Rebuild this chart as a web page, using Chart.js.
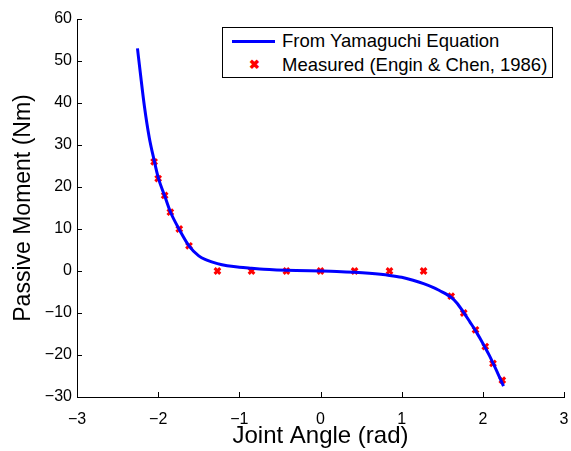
<!DOCTYPE html>
<html lang="en">
<head>
  <meta charset="UTF-8" />
  <title>Passive Moment vs Joint Angle</title>
  <script src="https://cdn.jsdelivr.net/npm/chart.js"></script>
  <style>
    body {
      margin: 0;
      background: white;
      font-family: 'Liberation Sans', Arial, sans-serif;
    }
    .wrap {
      position: relative;
      width: 571px;
      height: 451px;
    }
    .legend {
      position: absolute;
      left: 222px;
      top: 27px;
      width: 331px;
      height: 51px;
      border: 1px solid #000;
      background: white;
      font-size: 18.5px;
      color: #000;
      box-sizing: border-box;
    }
    .legend .row {
      position: absolute;
      left: 0;
      height: 22px;
      line-height: 22px;
      white-space: nowrap;
    }
    .legend .row span { position: absolute; left: 59px; }
    .legend .line {
      position: absolute;
      left: 9px;
      top: 10px;
      width: 43px;
      height: 3px;
      background: #0000ff;
    }
    .legend .mark {
      position: absolute;
      left: 26px;
      top: 0px;
      color: #ff0000;
      font-weight: bold;
      font-size: 13px;
    }
  </style>
</head>
<body>
  <div class="wrap">
    <canvas id="chart" width="571" height="451"></canvas>
    <div class="legend">
      <div class="row" style="top:2px;"><div class="line"></div><span>From Yamaguchi Equation</span></div>
      <div class="row" style="top:26px;"><div class="mark">&#x2716;</div><span>Measured (Engin &amp; Chen, 1986)</span></div>
    </div>
  </div>

  <script>
    // curve
    const curveX = [-2.255, -2.22, -2.17, -2.11, -2.05, -2.00, -1.92, -1.85, -1.74, -1.62, -1.50, -1.40, -1.27, -1.15, -1.00, -0.85, -0.70, -0.54, -0.30, 0, 0.20, 0.42, 0.60, 0.85, 1.00, 1.14, 1.27, 1.40, 1.47, 1.55, 1.61, 1.68, 1.765, 1.84, 1.91, 1.97, 2.03, 2.08, 2.125, 2.18, 2.255];
    const curveY = [53, 47.2, 39.3, 31.8, 26.4, 22.3, 17.9, 14.1, 9.9, 6.0, 3.6, 2.6, 1.75, 1.25, 0.9, 0.65, 0.42, 0.26, 0.1, 0, -0.1, -0.3, -0.55, -1.05, -1.5, -2.2, -3.0, -4.0, -4.7, -5.5, -6.3, -7.6, -9.9, -12.1, -14.2, -16.2, -18.3, -20.1, -21.9, -24.2, -27.4];

    // measured points
    const measX = [-2.05, -2.00, -1.92, -1.85, -1.74, -1.62, -1.27, -0.85, -0.42, 0, 0.42, 0.85, 1.27, 1.61, 1.765, 1.91, 2.03, 2.125, 2.24];
    const measY = [26, 22, 18, 14, 10, 6, 0, 0, 0, 0, 0, 0, 0, -6, -10, -14, -18, -22, -26];

    const xTicks = [-3, -2, -1, 0, 1, 2, 3];
    const yTicks = [-30, -20, -10, 0, 10, 20, 30, 40, 50, 60];

    const font = "'Liberation Sans', Arial, sans-serif";

    // small inward tick marks like the original
    const innerTicks = {
      id: 'innerTicks',
      afterDraw(chart) {
        const { ctx, chartArea, scales } = chart;
        ctx.save();
        ctx.strokeStyle = '#000';
        ctx.lineWidth = 1;
        ctx.beginPath();
        xTicks.forEach(v => {
          const px = Math.round(scales.x.getPixelForValue(v)) + 0.5;
          ctx.moveTo(px, chartArea.bottom);
          ctx.lineTo(px, chartArea.bottom - 5);
        });
        yTicks.forEach(v => {
          const py = Math.round(scales.y.getPixelForValue(v)) + 0.5;
          ctx.moveTo(chartArea.left, py);
          ctx.lineTo(chartArea.left + 5, py);
        });
        ctx.stroke();
        ctx.restore();
      }
    };

    new Chart(document.getElementById('chart'), {
      type: 'scatter',
      data: {
        datasets: [
          {
            label: 'From Yamaguchi Equation',
            data: curveX.map((x, i) => ({ x: x, y: curveY[i] })),
            showLine: true,
            borderColor: '#0000ff',
            borderWidth: 3,
            pointRadius: 0,
            cubicInterpolationMode: 'monotone'
          },
          {
            label: 'Measured (Engin & Chen, 1986)',
            data: measX.map((x, i) => ({ x: x, y: measY[i] })),
            showLine: false,
            pointStyle: 'crossRot',
            pointRadius: 4,
            borderColor: '#ff0000',
            borderWidth: 3
          }
        ]
      },
      options: {
        responsive: false,
        animation: false,
        layout: { padding: { top: 19, right: 7, left: 0, bottom: 0 } },
        plugins: {
          legend: { display: false },
          tooltip: { enabled: false }
        },
        scales: {
          x: {
            type: 'linear',
            min: -3,
            max: 3,
            afterFit: s => { s.height = 54; s.paddingLeft = 0; s.paddingRight = 0; },
            afterBuildTicks: s => { s.ticks = xTicks.map(v => ({ value: v })); },
            grid: { drawOnChartArea: false, drawTicks: false },
            border: { display: true, color: '#000', width: 1 },
            ticks: {
              color: '#000',
              padding: 13,
              font: { family: font, size: 16 },
              callback: v => String(v).replace('-', '\u2212')
            },
            title: {
              display: true,
              text: 'Joint Angle (rad)',
              color: '#000',
              font: { family: font, size: 24 },
              padding: { top: 0, bottom: 0 }
            }
          },
          y: {
            type: 'linear',
            min: -30,
            max: 60,
            afterFit: s => { s.width = 77; s.paddingTop = 0; s.paddingBottom = 0; },
            afterBuildTicks: s => { s.ticks = yTicks.map(v => ({ value: v })); },
            grid: { drawOnChartArea: false, drawTicks: false },
            border: { display: true, color: '#000', width: 1 },
            ticks: {
              color: '#000',
              padding: 5,
              font: { family: font, size: 16 },
              callback: v => String(v).replace('-', '\u2212')
            },
            title: {
              display: true,
              text: 'Passive Moment (Nm)',
              color: '#000',
              font: { family: font, size: 23 },
              padding: { top: 10, bottom: 0 }
            }
          }
        }
      },
      plugins: [innerTicks]
    });
  </script>
</body>
</html>
